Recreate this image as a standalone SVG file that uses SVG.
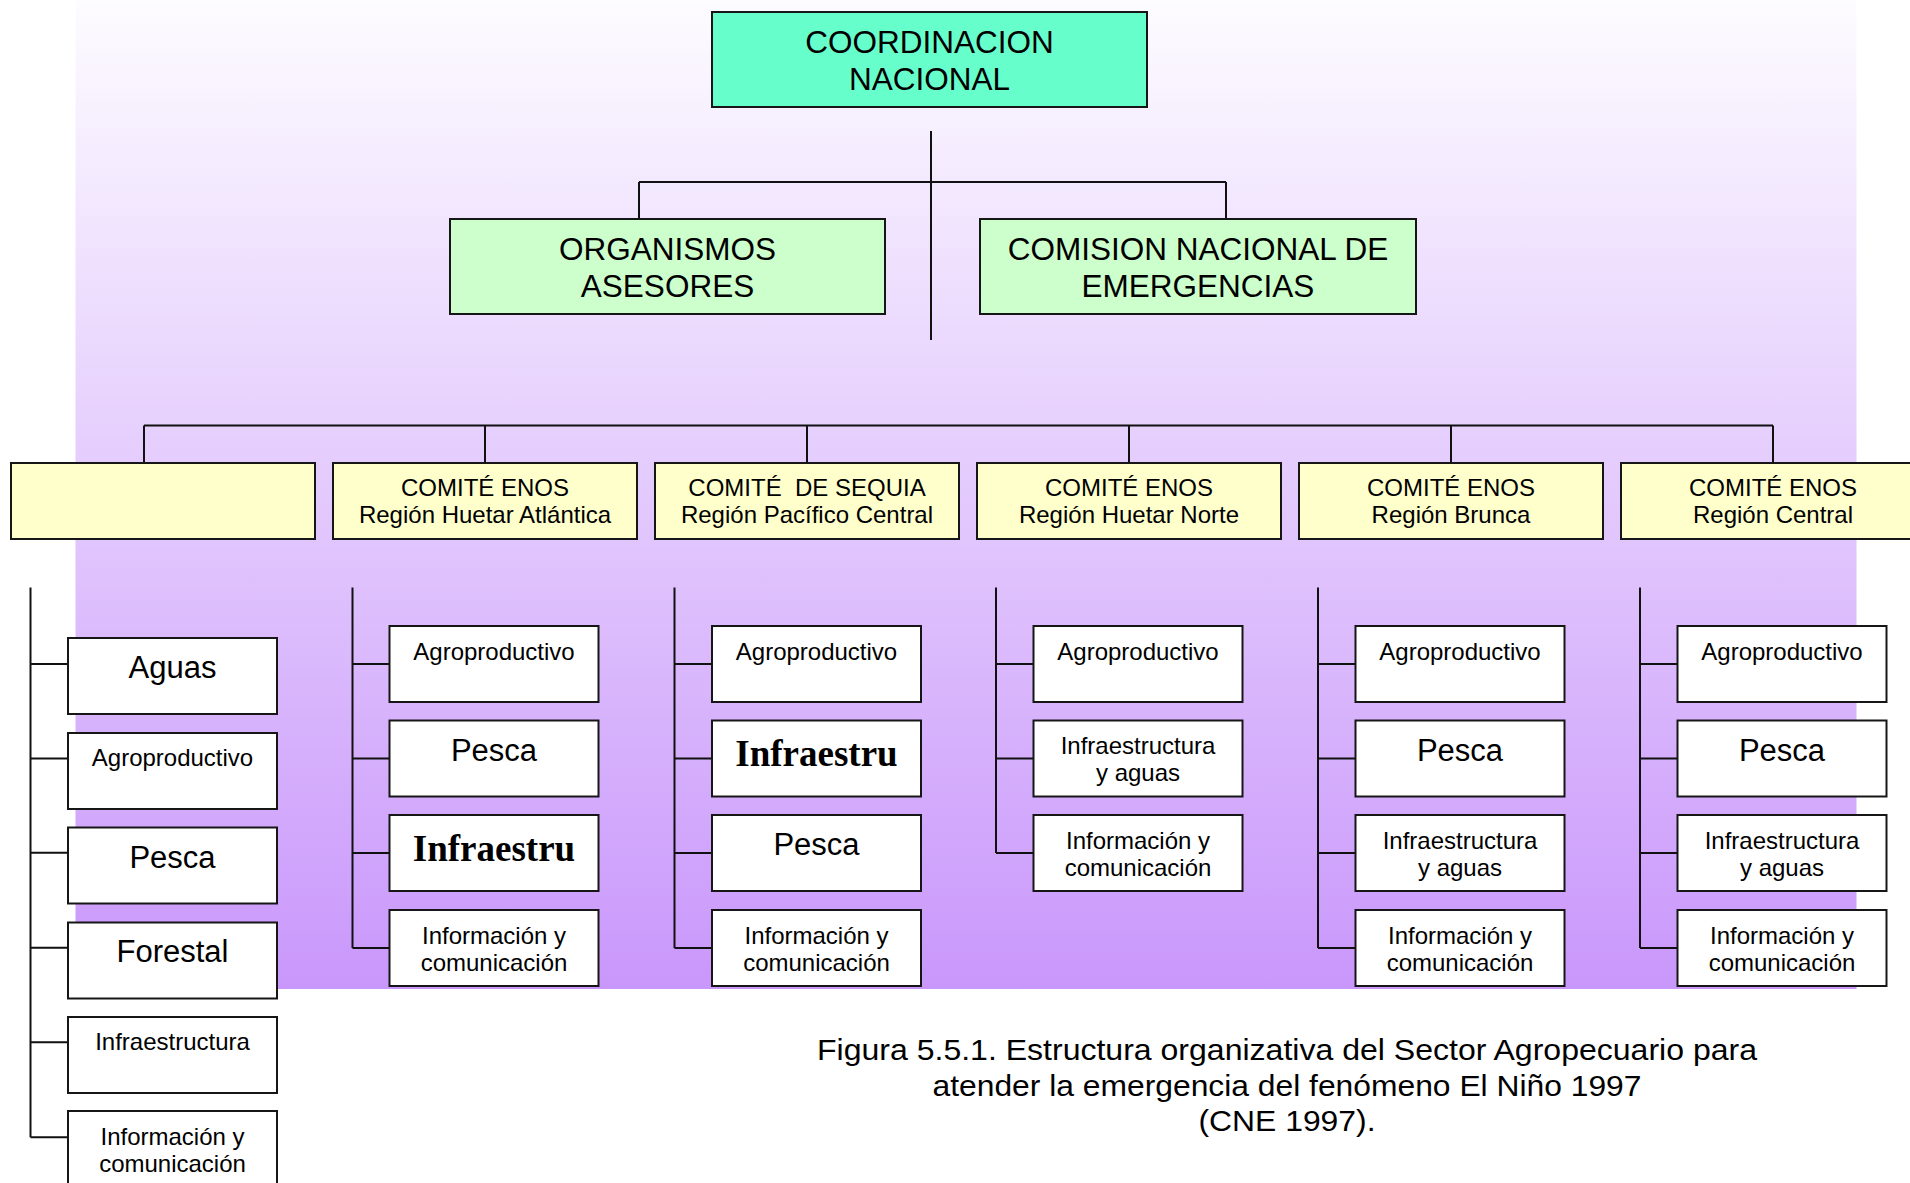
<svg xmlns="http://www.w3.org/2000/svg" width="1910" height="1183" viewBox="0 0 1910 1183">
<defs>
<linearGradient id="bg" x1="0" y1="0" x2="0" y2="1">
<stop offset="0" stop-color="#fdfcff"/>
<stop offset="1" stop-color="#c997fb"/>
</linearGradient>
<style>
.bx{stroke:#161616;stroke-width:2}
.g1{fill:#66FFCC}
.g2{fill:#CCFFCC}
.y{fill:#FFFFCC}
.w{fill:#FFFFFF}
.t{font-family:"Liberation Sans",Arial,sans-serif;text-anchor:middle;fill:#000}
.s24{font-size:24px}
.s31{font-size:31px}
.s32{font-size:31.5px}
.b{font-family:"Liberation Serif","Times New Roman",serif;font-weight:bold;font-size:37px;text-anchor:middle;fill:#000}
.c{stroke:#111;stroke-width:2;fill:none}
.cap{font-family:"Liberation Sans",Arial,sans-serif;font-size:29px;text-anchor:middle;fill:#000}
</style>
</defs>
<rect x="0" y="0" width="1910" height="1183" fill="#FFFFFF"/>
<rect x="75.5" y="0" width="1781" height="989" fill="url(#bg)"/>

<g id="connectors">
<path class="c" d="M931,131 V340 M639,182 H1226 M639,182 V219 M1226,182 V219"/>
<path class="c" d="M144,425.5 H1773 M144,425.5 V463 M485,425.5 V463 M807,425.5 V463 M1129,425.5 V463 M1451,425.5 V463 M1773,425.5 V463"/>
<path class="c" d="M30.5,587.5 V1137.3 M30.5,664 H68 M30.5,758.6 H68 M30.5,852.7 H68 M30.5,947.7 H68 M30.5,1042.3 H68 M30.5,1137.3 H68"/>
<path class="c" d="M352.5,587.5 V948 M352.5,664 H389.5 M352.5,758.5 H389.5 M352.5,853 H389.5 M352.5,948 H389.5"/>
<path class="c" d="M674.5,587.5 V948 M674.5,664 H712 M674.5,758.5 H712 M674.5,853 H712 M674.5,948 H712"/>
<path class="c" d="M996,587.5 V853 M996,664 H1033.5 M996,758.5 H1033.5 M996,853 H1033.5"/>
<path class="c" d="M1318,587.5 V948 M1318,664 H1355.5 M1318,758.5 H1355.5 M1318,853 H1355.5 M1318,948 H1355.5"/>
<path class="c" d="M1640,587.5 V948 M1640,664 H1677.5 M1640,758.5 H1677.5 M1640,853 H1677.5 M1640,948 H1677.5"/>
</g>

<g id="coordinacion">
<rect class="bx g1" x="712" y="12" width="435" height="95"/>
<text class="t s32" x="929.5" y="53">COORDINACION</text>
<text class="t s32" x="929.5" y="89.5">NACIONAL</text>
</g>
<g id="organismos">
<rect class="bx g2" x="450" y="219" width="435" height="95"/>
<text class="t s32" x="667.5" y="260">ORGANISMOS</text>
<text class="t s32" x="667.5" y="296.5">ASESORES</text>
</g>
<g id="comision">
<rect class="bx g2" x="980" y="219" width="436" height="95"/>
<text class="t s32" x="1198" y="260">COMISION NACIONAL DE</text>
<text class="t s32" x="1198" y="296.5">EMERGENCIAS</text>
</g>

<g id="comite0"><rect class="bx y" x="11" y="463" width="304" height="76"/></g>
<g id="comite1"><rect class="bx y" x="333" y="463" width="304" height="76"/>
<text class="t s24" x="485" y="496">COMITÉ ENOS</text><text class="t s24" x="485" y="523">Región Huetar Atlántica</text></g>
<g id="comite2"><rect class="bx y" x="655" y="463" width="304" height="76"/>
<text class="t s24" x="807" y="496" xml:space="preserve">COMITÉ  DE SEQUIA</text><text class="t s24" x="807" y="523">Región Pacífico Central</text></g>
<g id="comite3"><rect class="bx y" x="977" y="463" width="304" height="76"/>
<text class="t s24" x="1129" y="496">COMITÉ ENOS</text><text class="t s24" x="1129" y="523">Región Huetar Norte</text></g>
<g id="comite4"><rect class="bx y" x="1299" y="463" width="304" height="76"/>
<text class="t s24" x="1451" y="496">COMITÉ ENOS</text><text class="t s24" x="1451" y="523">Región Brunca</text></g>
<g id="comite5"><rect class="bx y" x="1621" y="463" width="304" height="76"/>
<text class="t s24" x="1773" y="496">COMITÉ ENOS</text><text class="t s24" x="1773" y="523">Región Central</text></g>

<!-- column 0 -->
<g id="c0-aguas"><rect class="bx w" x="68" y="638" width="209" height="76"/><text class="t s31" x="172.5" y="678">Aguas</text></g>
<g id="c0-agro"><rect class="bx w" x="68" y="733" width="209" height="76"/><text class="t s24" x="172.5" y="766">Agroproductivo</text></g>
<g id="c0-pesca"><rect class="bx w" x="68" y="827.5" width="209" height="76"/><text class="t s31" x="172.5" y="868">Pesca</text></g>
<g id="c0-forestal"><rect class="bx w" x="68" y="922.5" width="209" height="76"/><text class="t s31" x="172.5" y="962">Forestal</text></g>
<g id="c0-infra"><rect class="bx w" x="68" y="1017" width="209" height="76"/><text class="t s24" x="172.5" y="1050">Infraestructura</text></g>
<g id="c0-info"><rect class="bx w" x="68" y="1111" width="209" height="76"/><text class="t s24" x="172.5" y="1145">Información y</text><text class="t s24" x="172.5" y="1172">comunicación</text></g>

<!-- column 1 -->
<g id="c1-agro"><rect class="bx w" x="389.5" y="626" width="209" height="76"/><text class="t s24" x="494" y="660">Agroproductivo</text></g>
<g id="c1-pesca"><rect class="bx w" x="389.5" y="720.5" width="209" height="76"/><text class="t s31" x="494" y="760.5">Pesca</text></g>
<g id="c1-infra"><rect class="bx w" x="389.5" y="815" width="209" height="76"/><text class="b" x="494" y="861">Infraestru</text></g>
<g id="c1-info"><rect class="bx w" x="389.5" y="910" width="209" height="76"/><text class="t s24" x="494" y="944">Información y</text><text class="t s24" x="494" y="971">comunicación</text></g>

<!-- column 2 -->
<g id="c2-agro"><rect class="bx w" x="712" y="626" width="209" height="76"/><text class="t s24" x="816.5" y="660">Agroproductivo</text></g>
<g id="c2-infra"><rect class="bx w" x="712" y="720.5" width="209" height="76"/><text class="b" x="816.5" y="766">Infraestru</text></g>
<g id="c2-pesca"><rect class="bx w" x="712" y="815" width="209" height="76"/><text class="t s31" x="816.5" y="855">Pesca</text></g>
<g id="c2-info"><rect class="bx w" x="712" y="910" width="209" height="76"/><text class="t s24" x="816.5" y="944">Información y</text><text class="t s24" x="816.5" y="971">comunicación</text></g>

<!-- column 3 -->
<g id="c3-agro"><rect class="bx w" x="1033.5" y="626" width="209" height="76"/><text class="t s24" x="1138" y="660">Agroproductivo</text></g>
<g id="c3-infra"><rect class="bx w" x="1033.5" y="720.5" width="209" height="76"/><text class="t s24" x="1138" y="754">Infraestructura</text><text class="t s24" x="1138" y="781">y aguas</text></g>
<g id="c3-info"><rect class="bx w" x="1033.5" y="815" width="209" height="76"/><text class="t s24" x="1138" y="849">Información y</text><text class="t s24" x="1138" y="876">comunicación</text></g>

<!-- column 4 -->
<g id="c4-agro"><rect class="bx w" x="1355.5" y="626" width="209" height="76"/><text class="t s24" x="1460" y="660">Agroproductivo</text></g>
<g id="c4-pesca"><rect class="bx w" x="1355.5" y="720.5" width="209" height="76"/><text class="t s31" x="1460" y="760.5">Pesca</text></g>
<g id="c4-infra"><rect class="bx w" x="1355.5" y="815" width="209" height="76"/><text class="t s24" x="1460" y="849">Infraestructura</text><text class="t s24" x="1460" y="876">y aguas</text></g>
<g id="c4-info"><rect class="bx w" x="1355.5" y="910" width="209" height="76"/><text class="t s24" x="1460" y="944">Información y</text><text class="t s24" x="1460" y="971">comunicación</text></g>

<!-- column 5 -->
<g id="c5-agro"><rect class="bx w" x="1677.5" y="626" width="209" height="76"/><text class="t s24" x="1782" y="660">Agroproductivo</text></g>
<g id="c5-pesca"><rect class="bx w" x="1677.5" y="720.5" width="209" height="76"/><text class="t s31" x="1782" y="760.5">Pesca</text></g>
<g id="c5-infra"><rect class="bx w" x="1677.5" y="815" width="209" height="76"/><text class="t s24" x="1782" y="849">Infraestructura</text><text class="t s24" x="1782" y="876">y aguas</text></g>
<g id="c5-info"><rect class="bx w" x="1677.5" y="910" width="209" height="76"/><text class="t s24" x="1782" y="944">Información y</text><text class="t s24" x="1782" y="971">comunicación</text></g>

<g id="caption">
<text class="cap" x="1287" y="1060" textLength="940" lengthAdjust="spacingAndGlyphs">Figura 5.5.1. Estructura organizativa del Sector Agropecuario para</text>
<text class="cap" x="1287" y="1096" textLength="709" lengthAdjust="spacingAndGlyphs">atender la emergencia del fenómeno El Niño 1997</text>
<text class="cap" x="1287" y="1131" textLength="177" lengthAdjust="spacingAndGlyphs">(CNE 1997).</text>
</g>
</svg>
